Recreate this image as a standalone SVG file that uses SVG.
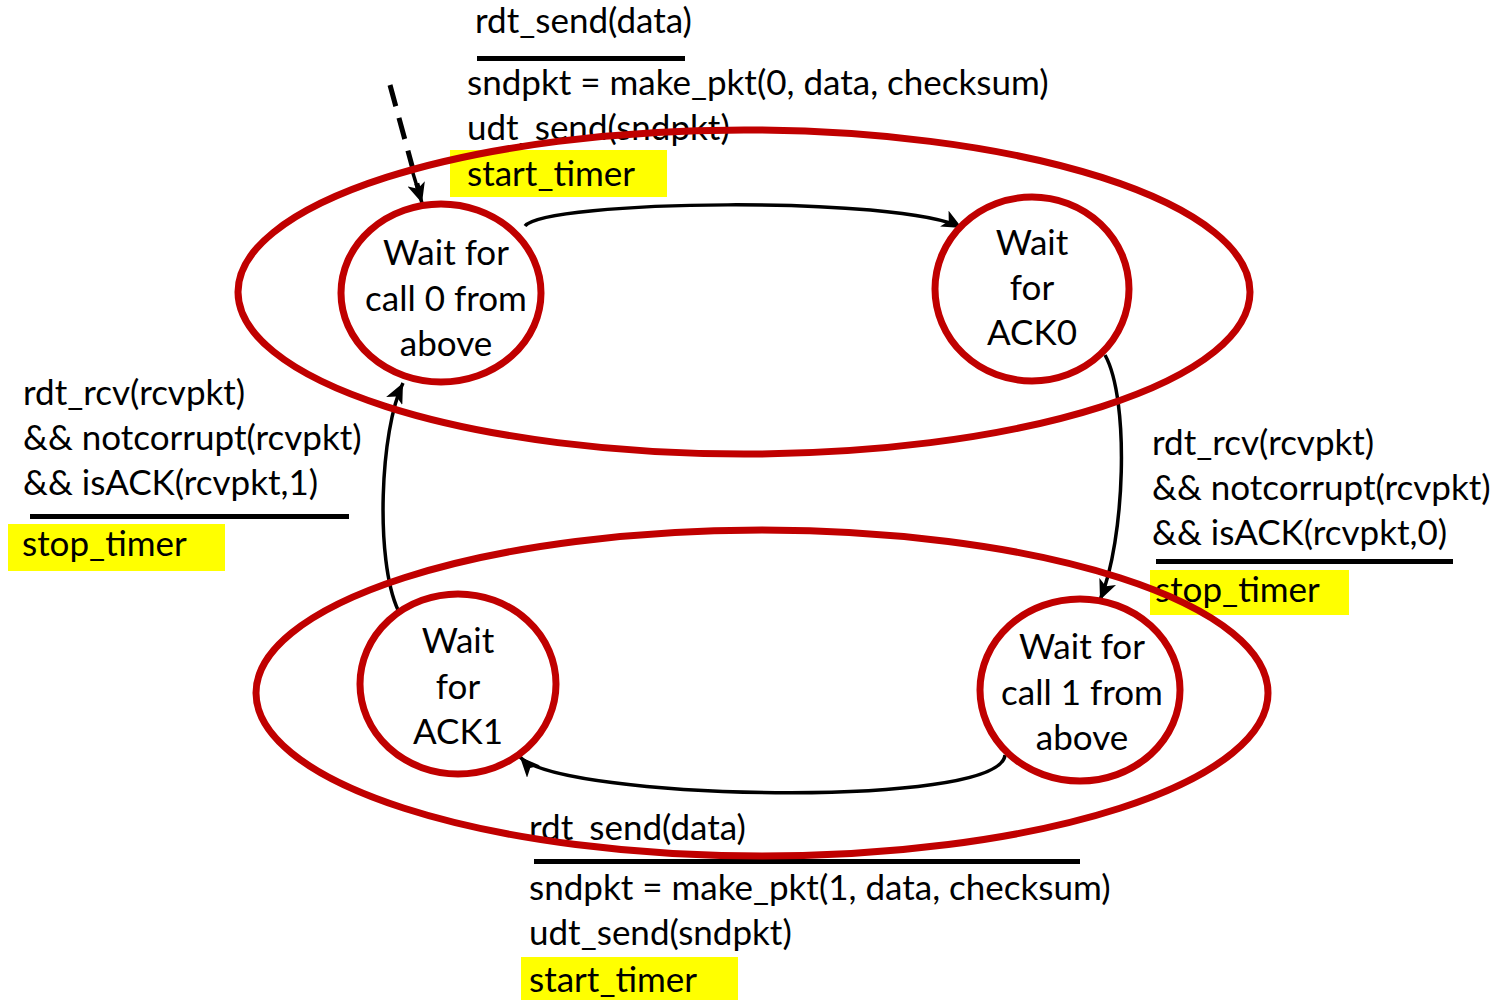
<svg xmlns="http://www.w3.org/2000/svg" width="1498" height="1000" viewBox="0 0 1498 1000">
<style>
text{font-family:Lato,"Open Sans","Liberation Sans",sans-serif;font-size:35px;fill:#000}
.st{text-anchor:middle}
.state{fill:#fff;stroke:#c00000;stroke-width:7}
.big{fill:none;stroke:#c00000;stroke-width:7}
.hl{fill:#ffff00}
.bar{fill:#000}
.conn{fill:none;stroke:#000;stroke-width:3.5}
.dash{stroke-width:5;stroke-dasharray:22,12}
</style>
<defs>
<marker id="ah" markerUnits="userSpaceOnUse" markerWidth="22" markerHeight="18" refX="20" refY="9" orient="auto">
<path d="M0,0 L20,9 L0,18 L5,9 Z" fill="#000"/>
</marker>
</defs>
<g id="labels">
<g id="label-top">
<text x="475" y="33">rdt_send(data)</text>
<rect class="bar" x="477" y="56" width="208" height="5"/>
<text x="467" y="95">sndpkt = make_pkt(0, data, checksum)</text>
<text x="467" y="140">udt_send(sndpkt)</text>
<rect class="hl" x="450" y="150" width="217" height="47"/>
<text x="467" y="186">start_timer</text>
</g>
<g id="label-left">
<text x="23" y="405">rdt_rcv(rcvpkt)</text>
<text x="23" y="450">&amp;&amp; notcorrupt(rcvpkt)</text>
<text x="23" y="495">&amp;&amp; isACK(rcvpkt,1)</text>
<rect class="bar" x="30" y="514" width="319" height="5"/>
<rect class="hl" x="8" y="524" width="217" height="47"/>
<text x="22" y="556">stop_timer</text>
</g>
<g id="label-right">
<text x="1152" y="455">rdt_rcv(rcvpkt)</text>
<text x="1152" y="500">&amp;&amp; notcorrupt(rcvpkt)</text>
<text x="1152" y="545">&amp;&amp; isACK(rcvpkt,0)</text>
<rect class="bar" x="1156" y="559" width="297" height="5"/>
<rect class="hl" x="1150" y="570" width="199" height="45"/>
<text x="1155" y="602">stop_timer</text>
</g>
<g id="label-bottom">
<text x="529" y="840">rdt_send(data)</text>
<rect class="bar" x="534" y="859" width="546" height="5"/>
<text x="529" y="900">sndpkt = make_pkt(1, data, checksum)</text>
<text x="529" y="945">udt_send(sndpkt)</text>
<rect class="hl" x="521" y="957" width="217" height="43"/>
<text x="529" y="992">start_timer</text>
</g>
</g>
<g id="connectors">
<path class="conn dash" d="M390,85 L420,195"/>
<path class="conn" d="M412,170 L422,203" marker-end="url(#ah)"/>
<path class="conn" d="M525,226 C545,200 900,195 962,228" marker-end="url(#ah)"/>
<path class="conn" d="M1105,355 C1130,400 1125,540 1100,600" marker-end="url(#ah)"/>
<path class="conn" d="M1005,755 C1000,810 560,800 520,757" marker-end="url(#ah)"/>
<path class="conn" d="M398,610 C375,560 380,430 403,383" marker-end="url(#ah)"/>
</g>
<g id="group-top">
<ellipse class="big" cx="744" cy="292" rx="506" ry="162"/>
</g>
<g id="group-bottom">
<ellipse class="big" cx="762" cy="693" rx="506" ry="163"/>
</g>
<g id="s-call0">
<ellipse class="state" cx="441" cy="293" rx="100" ry="89"/>
<text class="st" x="446" y="265">Wait for</text>
<text class="st" x="446" y="311">call 0 from</text>
<text class="st" x="446" y="356">above</text>
</g>
<g id="s-ack0">
<ellipse class="state" cx="1032" cy="289" rx="97" ry="92"/>
<text class="st" x="1032" y="255">Wait</text>
<text class="st" x="1032" y="300">for</text>
<text class="st" x="1032" y="345">ACK0</text>
</g>
<g id="s-ack1">
<ellipse class="state" cx="458" cy="684" rx="98" ry="90"/>
<text class="st" x="458" y="653">Wait</text>
<text class="st" x="458" y="699">for</text>
<text class="st" x="458" y="744">ACK1</text>
</g>
<g id="s-call1">
<ellipse class="state" cx="1080" cy="690" rx="100" ry="91"/>
<text class="st" x="1082" y="659">Wait for</text>
<text class="st" x="1082" y="705">call 1 from</text>
<text class="st" x="1082" y="750">above</text>
</g>
</svg>
